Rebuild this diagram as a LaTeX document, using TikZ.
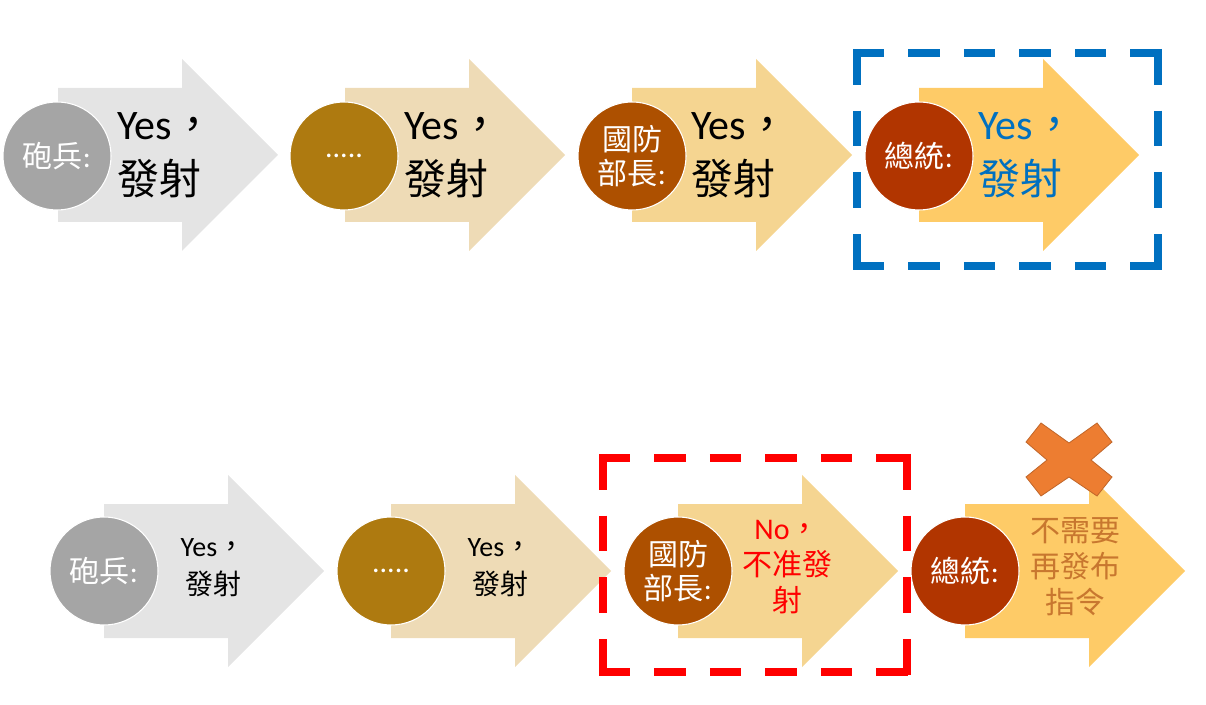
\documentclass[tikz,border=0pt]{standalone}
\usepackage{fontspec}
\setmainfont{Carlito}
\newfontfamily\cjk{Noto Sans CJK TC}
\definecolor{a1}{HTML}{E4E4E4}
\definecolor{a2}{HTML}{EEDBB6}
\definecolor{a3}{HTML}{F5D591}
\definecolor{a4}{HTML}{FECB67}
\definecolor{c1}{HTML}{A5A5A5}
\definecolor{c2}{HTML}{AE7A10}
\definecolor{c3}{HTML}{AD5000}
\definecolor{c4}{HTML}{B13500}
\definecolor{dblue}{HTML}{0070C0}
\definecolor{xorange}{HTML}{ED7D31}
\definecolor{xedge}{HTML}{C0662A}
\definecolor{mutedorange}{HTML}{C8772F}
\newcommand\chevarrow[3]{%
  \fill[#3] (#1,#2-67) -- (#1+124,#2-67) -- (#1+124,#2-96) -- (#1+220,#2)
    -- (#1+124,#2+96) -- (#1+124,#2+67) -- (#1,#2+67) -- cycle;}
\begin{document}
\begin{tikzpicture}[x=0.75pt,y=-0.75pt,
  circ/.style={circle, minimum size=81pt, inner sep=0pt, draw=white, line width=0.8pt,
    text=white, font=\fontsize{22.5}{26}\selectfont, align=center},
  toptext/.style={anchor=west, align=left, inner sep=0pt, font=\fontsize{31.5}{41}\selectfont},
  bottext/.style={anchor=center, align=center, inner sep=0pt, font=\fontsize{21}{28.5}\selectfont},
  bottext3/.style={anchor=center, align=center, inner sep=0pt, font=\fontsize{22.5}{27}\selectfont},
  hdash/.style={line width=5.5pt, dash pattern=on 23.6pt off 18pt},
  vdash/.style={line width=5.5pt, dash pattern=on 26.8pt off 19.5pt}]
\useasboundingbox (0,0) rectangle (1206,705);
% ---- top row ----
\chevarrow{58}{155}{a1}
\chevarrow{345}{155}{a2}
\chevarrow{632}{155}{a3}
\chevarrow{919}{155}{a4}
\node[circ, fill=c1] (c11) at (57,156) {{\cjk 砲兵}:};
\node[circ, fill=c2] (c12) at (344,156) {.....};
\node[circ, fill=c3] (c13) at (632,156) {{\cjk 國防}\\{\cjk 部長}:};
\node[circ, fill=c4] (c14) at (919,156) {{\cjk 總統}:};
\node[toptext] (t11) at (117,155) {Yes{\cjk ，}\\{\cjk 發射}};
\node[toptext] (t12) at (404,155) {Yes{\cjk ，}\\{\cjk 發射}};
\node[toptext] (t13) at (691,155) {Yes{\cjk ，}\\{\cjk 發射}};
\node[toptext, text=dblue] (t14) at (978,155) {Yes{\cjk ，}\\{\cjk 發射}};
% blue dashed frame
\begin{scope}[dblue]
\draw[hdash] (853,53) -- (1162,53);
\draw[hdash] (853,266) -- (1162,266);
\draw[vdash] (857,49) -- (857,270);
\draw[vdash] (1158,49) -- (1158,270);
\end{scope}
% ---- bottom row ----
\chevarrow{104}{571}{a1}
\chevarrow{391}{571}{a2}
\chevarrow{678}{571}{a3}
\chevarrow{965}{571}{a4}
\node[circ, fill=c1] (c21) at (104,571) {{\cjk 砲兵}:};
\node[circ, fill=c2] (c22) at (391,571) {.....};
\node[circ, fill=c3] (c23) at (678,571) {{\cjk 國防}\\{\cjk 部長}:};
\node[circ, fill=c4] (c24) at (965,571) {{\cjk 總統}:};
\node[bottext] (t21) at (213,568) {Yes{\cjk ，}\\{\cjk 發射}};
\node[bottext] (t22) at (500,568) {Yes{\cjk ，}\\{\cjk 發射}};
\node[bottext3, text=red] (t23) at (787,567) {No{\cjk ，}\\{\cjk 不准發}\\{\cjk 射}};
\node[bottext3, text=mutedorange] (t24) at (1075,567) {{\cjk 不需要}\\{\cjk 再發布}\\{\cjk 指令}};
% red dashed frame
\begin{scope}[red]
\draw[hdash] (599,458) -- (911,458);
\draw[hdash] (599,672) -- (911,672);
\draw[vdash] (603,454) -- (603,676);
\draw[vdash] (907,454) -- (907,676);
\end{scope}
% ---- X mark ----
\draw[fill=xorange, draw=xedge, line width=0.6pt, line join=miter]
  (1041,423) -- (1069,443) -- (1097,423) -- (1112,442) -- (1091,460) -- (1112,477)
  -- (1097,496) -- (1069,477) -- (1041,496) -- (1026,477) -- (1047,460) -- (1026,442) -- cycle;
\end{tikzpicture}
\end{document}
